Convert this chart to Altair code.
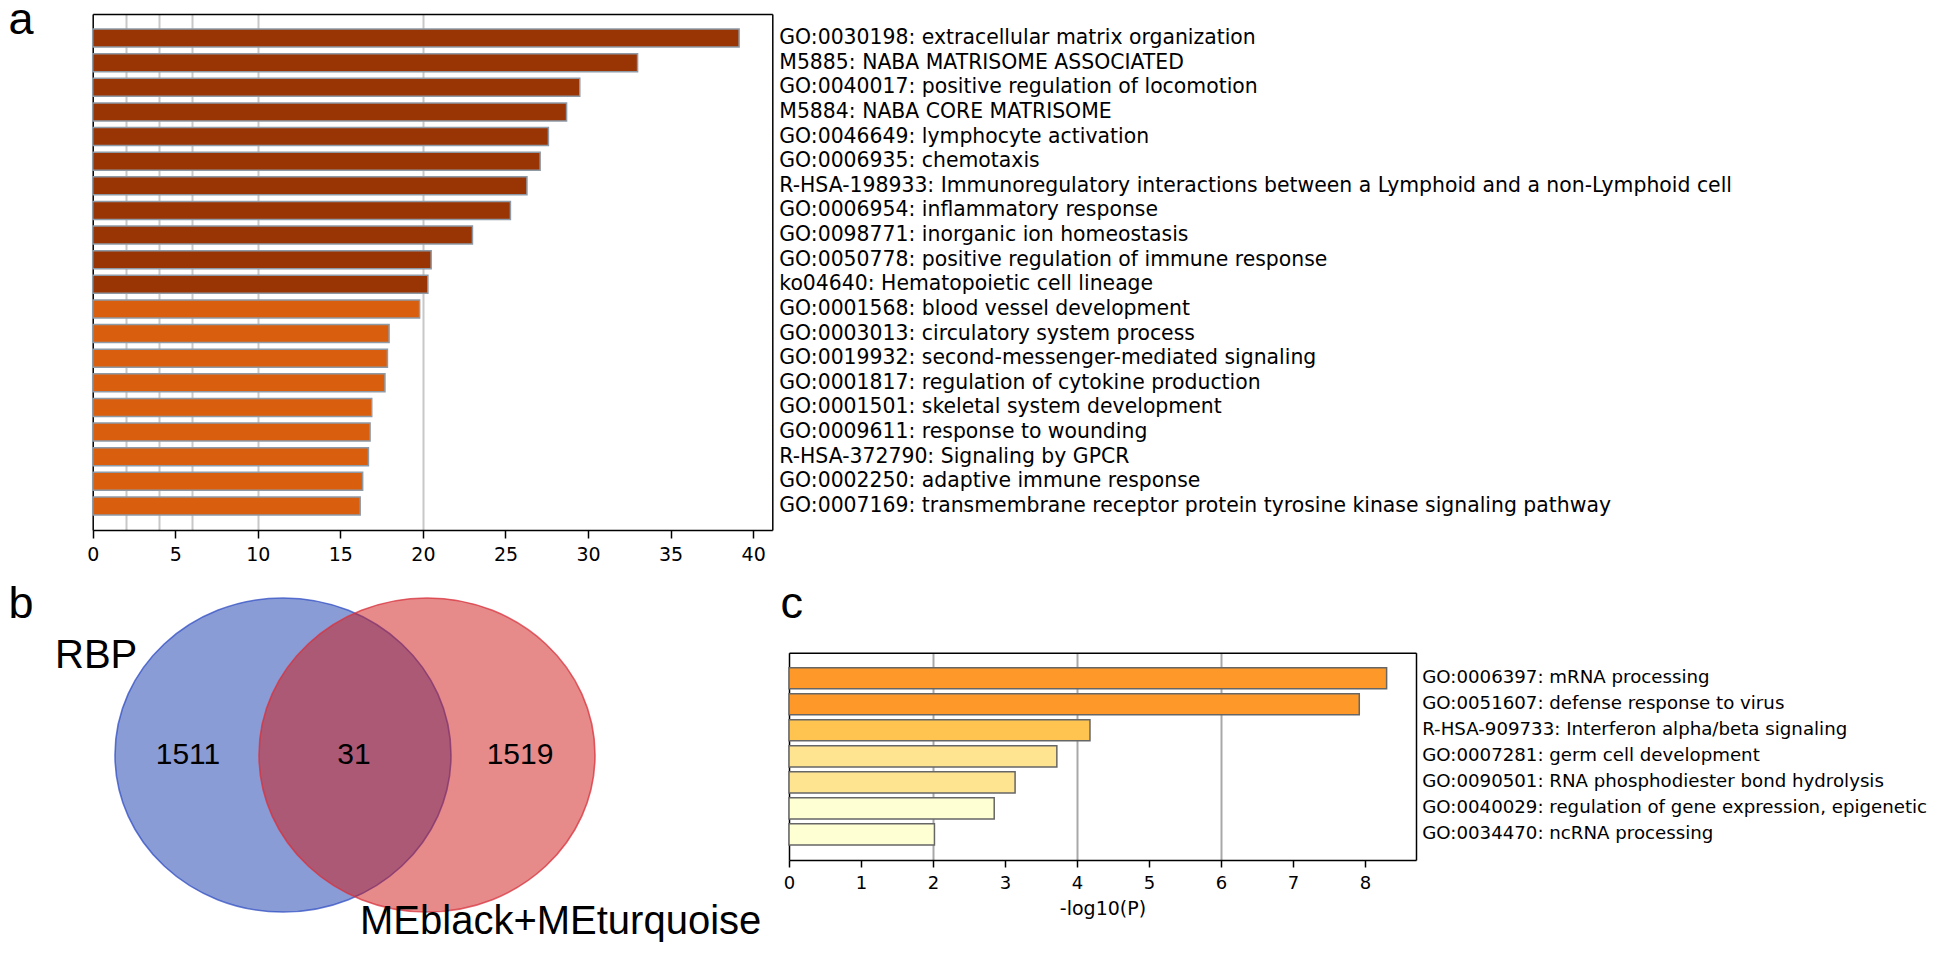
import altair as alt
import pandas as pd

# ---------------- data ----------------
terms_a = [
    "GO:0030198: extracellular matrix organization",
    "M5885: NABA MATRISOME ASSOCIATED",
    "GO:0040017: positive regulation of locomotion",
    "M5884: NABA CORE MATRISOME",
    "GO:0046649: lymphocyte activation",
    "GO:0006935: chemotaxis",
    "R-HSA-198933: Immunoregulatory interactions between a Lymphoid and a non-Lymphoid cell",
    "GO:0006954: inflammatory response",
    "GO:0098771: inorganic ion homeostasis",
    "GO:0050778: positive regulation of immune response",
    "ko04640: Hematopoietic cell lineage",
    "GO:0001568: blood vessel development",
    "GO:0003013: circulatory system process",
    "GO:0019932: second-messenger-mediated signaling",
    "GO:0001817: regulation of cytokine production",
    "GO:0001501: skeletal system development",
    "GO:0009611: response to wounding",
    "R-HSA-372790: Signaling by GPCR",
    "GO:0002250: adaptive immune response",
    "GO:0007169: transmembrane receptor protein tyrosine kinase signaling pathway",
]
logp_a = [39.15, 33.0, 29.5, 28.7, 27.6, 27.1, 26.3, 25.3, 23.0, 20.5,
          20.3, 19.8, 17.95, 17.85, 17.7, 16.9, 16.8, 16.7, 16.35, 16.2]
ticks_a = [0, 5, 10, 15, 20, 25, 30, 35, 40]
grid_a = [2, 4, 6, 10, 20]

terms_c = [
    "GO:0006397: mRNA processing",
    "GO:0051607: defense response to virus",
    "R-HSA-909733: Interferon alpha/beta signaling",
    "GO:0007281: germ cell development",
    "GO:0090501: RNA phosphodiester bond hydrolysis",
    "GO:0040029: regulation of gene expression, epigenetic",
    "GO:0034470: ncRNA processing",
]
logp_c = [8.30, 7.92, 4.18, 3.72, 3.14, 2.85, 2.02]
ticks_c = [0, 1, 2, 3, 4, 5, 6, 7, 8]
grid_c = [2, 4, 6]

sets = ["RBP", "MEblack+MEturquoise"]
regions = ["RBP only", "RBP & MEblack+MEturquoise", "MEblack+MEturquoise only"]
counts = [1511, 31, 1519]

# ---------------- style / layout ----------------
W, H = 1926, 936
SANS = "DejaVu Sans"
ARIAL = "Liberation Sans"

p_bins = [3, 4, 6, 10, 20]
p_colors = ["#ffffd4", "#fee391", "#fec44f", "#fe9929", "#d95f0e", "#993404"]
color_scale = alt.Scale(type="threshold", domain=p_bins, range=p_colors)

letter_style = dict(titleAngle=0, titleAlign="left", titleBaseline="alphabetic",
                    titleFont=ARIAL, titleFontSize=45, titleFontWeight="normal",
                    titleColor="black")


def bar_panel(terms, logp, xmax, xr, yr, pad_in, pad_out, ticks, grid,
              grid_color, bar_stroke, tick_fs, label_fs, label_pad,
              letter, letter_x, letter_y, tick_size, tick_pad,
              xtitle="", xtitle_style=None):
    df = pd.DataFrame({"term": terms, "logp": logp})
    xs = alt.Scale(domain=[0, xmax], range=xr, nice=False, zero=True)
    ys = alt.Scale(domain=terms, range=yr, paddingInner=pad_in,
                   paddingOuter=pad_out)
    frame = alt.Chart(df).mark_bar(opacity=0).encode(
        x=alt.X("logp:Q", scale=xs, axis=alt.Axis(
            orient="top", offset=-yr[0], values=grid, labels=False,
            ticks=False, domain=True, domainColor="black", domainWidth=1.5,
            grid=True, gridColor=grid_color, gridWidth=2, title="")),
        y=alt.Y("term:N", scale=ys, sort=None, axis=alt.Axis(
            orient="left", offset=-xr[0], labels=False, ticks=False,
            domain=True, domainColor="black", domainWidth=1.5,
            title=letter, titleX=letter_x, titleY=letter_y, **letter_style)),
    )
    xaxis = dict(orient="bottom", offset=yr[1] - H, values=ticks, grid=False,
                 labelFlush=False, labelFont=SANS, labelFontSize=tick_fs,
                 labelColor="black", tickColor="black", tickWidth=1.5,
                 tickSize=tick_size, labelPadding=tick_pad, domain=True,
                 domainColor="black", domainWidth=1.5, title=xtitle)
    if xtitle_style:
        xaxis.update(xtitle_style)
    bars = alt.Chart(df).mark_bar(stroke=bar_stroke, strokeWidth=1.5).encode(
        x=alt.X("logp:Q", scale=xs, axis=alt.Axis(**xaxis)),
        y=alt.Y("term:N", scale=ys, sort=None, axis=alt.Axis(
            orient="right", offset=xr[1] - W, ticks=False, domain=True,
            domainColor="black", domainWidth=1.5, labelFont=SANS,
            labelFontSize=label_fs, labelColor="black",
            labelPadding=label_pad, labelLimit=2000, title="")),
        color=alt.Color("logp:Q", scale=color_scale, legend=None),
    )
    return alt.layer(frame, bars).resolve_axis(x="independent", y="independent")


# panel letter "b" is carried by panel a's bottom axis title
panel_a = bar_panel(terms_a, logp_a, 41.16, [84.7, 764.3], [6, 522], 0.27, 0.61,
                    ticks_a, grid_a, "#c8c8c8", "#8e9aa6", 19, 20.4, 6.5,
                    "a", -84.7, 25, 8, 7,
                    xtitle="b",
                    xtitle_style=dict(titleX=0, titleY=87, **letter_style))

panel_c = bar_panel(terms_c, logp_c, 8.708, [781, 1408], [644.7, 852], 0.19, 0.58,
                    ticks_c, grid_c, "#a8a8a8", "#666666", 18, 18.2, 5.7,
                    "c", -9, 609, 7, 7,
                    xtitle="-log10(P)",
                    xtitle_style=dict(titleFont=SANS, titleFontSize=19,
                                      titleFontWeight="normal", titleColor="black",
                                      titleY=48, titleBaseline="middle"))

# ---------------- Venn ----------------
df_sets = pd.DataFrame({"label": sets, "row": ["venn"] * len(sets)})
df_reg = pd.DataFrame({"region": regions, "count": counts,
                       "row": ["venn"] * len(regions)})

set_x = alt.Scale(type="point", domain=sets, range=[275, 419], padding=0)
reg_x = alt.Scale(type="point", domain=regions, range=[180, 512], padding=0)
venn_y = alt.Scale(type="point", domain=["venn"], range=[747, 747], padding=0)

ellipse_path = "M-1,0A1,0.9345,0,1,1,1,0A1,0.9345,0,1,1,-1,0Z"

ellipses = alt.Chart(df_sets).mark_point(
    shape=ellipse_path, size=336 ** 2, filled=True, opacity=1,
    fillOpacity=0.5, strokeOpacity=0.75, strokeWidth=1.6,
).encode(
    x=alt.X("label:N", scale=set_x, axis=None),
    y=alt.Y("row:N", scale=venn_y, axis=None),
    fill=alt.Fill("label:N", scale=alt.Scale(domain=sets, range=["#1539ad", "#cd1515"]),
                  legend=None),
    stroke=alt.Stroke("label:N", scale=alt.Scale(domain=sets, range=["#3350c4", "#d8323c"]),
                      legend=None),
)

count_txt = alt.Chart(df_reg).mark_text(
    font=ARIAL, fontSize=30, color="black", baseline="middle", align="center"
).encode(
    x=alt.X("region:N", scale=reg_x, axis=None),
    y=alt.Y("row:N", scale=venn_y, axis=None),
    text="count:Q",
)

rbp_lbl = alt.Chart(df_sets).transform_filter(
    alt.datum.label == sets[0]
).mark_text(
    font=ARIAL, fontSize=40, color="black", align="left", baseline="middle",
    dx=-228, dy=-99,
).encode(
    x=alt.X("label:N", scale=set_x, axis=None),
    y=alt.Y("row:N", scale=venn_y, axis=None),
    text="label:N",
)

me_lbl = alt.Chart(df_sets).transform_filter(
    alt.datum.label == sets[1]
).mark_text(
    font=ARIAL, fontSize=40, color="black", align="left", baseline="alphabetic",
    dx=-67, dy=179,
).encode(
    x=alt.X("label:N", scale=set_x, axis=None),
    y=alt.Y("row:N", scale=venn_y, axis=None),
    text="label:N",
)

venn = alt.layer(ellipses, count_txt, rbp_lbl, me_lbl).resolve_scale(x="independent")

chart = alt.layer(panel_a, venn, panel_c).resolve_scale(
    x="independent", y="independent"
).properties(
    width=W, height=H,
    autosize=alt.AutoSizeParams(type="none"),
    padding=0,
).configure_view(stroke="transparent").configure_axis(grid=False)

chart.save("out.html", embed_options={"renderer": "svg", "actions": False})
